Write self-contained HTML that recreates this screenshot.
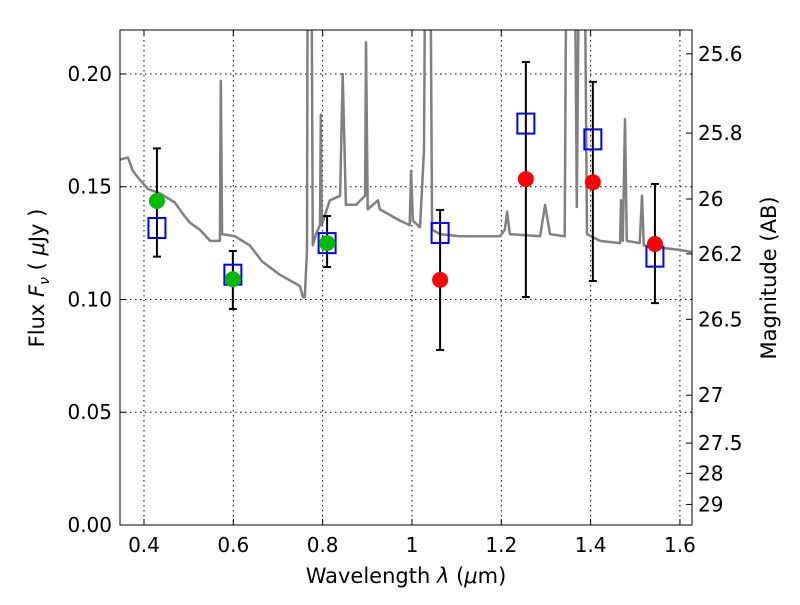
<!DOCTYPE html>
<html><head><meta charset="utf-8"><style>
body{margin:0;background:#fff;}
svg text{font-family:"DejaVu Sans","Liberation Sans",sans-serif;}
</style></head><body>
<svg id="chart" width="800" height="600">
<rect width="800" height="600" fill="#fff"/>
<defs><clipPath id="plotclip"><rect x="120" y="30" width="572" height="495"/></clipPath></defs>
<g id="grid"></g>
<g id="spec" clip-path="url(#plotclip)"></g>
<g id="marks"></g>
<rect x="120" y="30" width="572" height="495" fill="none" stroke="#000" stroke-width="1"/>
<g id="axes"></g>
<text x="406" y="583" font-size="21" text-anchor="middle">Wavelength  <tspan font-style="italic">λ</tspan> (<tspan font-style="italic">μ</tspan>m)</text>
<text transform="translate(44,278) rotate(-90)" font-size="21" text-anchor="middle">Flux  <tspan font-style="italic">F</tspan><tspan font-style="italic" font-size="14" dy="5">ν</tspan><tspan dy="-5">  ( </tspan><tspan font-style="italic">μ</tspan>Jy )</text>
<text transform="translate(776,278) rotate(-90)" font-size="21" text-anchor="middle">Magnitude (AB)</text>
</svg>
<script>
const specLam=[0.346,0.364,0.375,0.391,0.409,0.436,0.469,0.487,0.503,0.525,0.548,0.568,0.570,0.572,0.575,0.604,0.637,0.664,0.704,0.749,0.756,0.760,0.765,0.767,0.774,0.778,0.785,0.794,0.796,0.798,0.816,0.839,0.845,0.852,0.875,0.895,0.897,0.901,0.924,0.928,0.973,0.995,0.998,1.002,1.018,1.027,1.031,1.040,1.045,1.063,1.107,1.197,1.208,1.213,1.219,1.287,1.298,1.309,1.342,1.347,1.363,1.369,1.376,1.385,1.392,1.421,1.466,1.468,1.472,1.477,1.481,1.510,1.515,1.519,1.555,1.600,1.627];
const specFlux=[0.162,0.163,0.157,0.153,0.149,0.147,0.143,0.138,0.134,0.131,0.126,0.126,0.126,0.197,0.129,0.128,0.124,0.117,0.111,0.106,0.101,0.101,0.122,0.3,0.3,0.124,0.129,0.133,0.182,0.133,0.144,0.146,0.200,0.142,0.142,0.146,0.214,0.140,0.144,0.140,0.135,0.133,0.157,0.135,0.132,0.166,0.3,0.3,0.131,0.129,0.128,0.128,0.131,0.139,0.129,0.128,0.142,0.129,0.128,0.3,0.3,0.141,0.3,0.3,0.129,0.126,0.125,0.144,0.126,0.180,0.126,0.125,0.146,0.124,0.123,0.122,0.121];
const greenLam=[0.429,0.599,0.810];
const greenFlux=[0.1437,0.109,0.125];
const redLam=[1.063,1.255,1.405,1.544];
const redFlux=[0.1087,0.1534,0.152,0.1246];
const boxLam=[0.429,0.599,0.810,1.063,1.255,1.405,1.544];
const boxFlux=[0.1317,0.111,0.125,0.1295,0.178,0.171,0.119];
const errLo=[0.119,0.0958,0.1144,0.0776,0.1011,0.1082,0.0984];
const errHi=[0.167,0.1215,0.137,0.1397,0.2053,0.1965,0.1512];
const xTicks=[0.4,0.6,0.8,1.0,1.2,1.4,1.6];
const xTickLabels=["0.4","0.6","0.8","1","1.2","1.4","1.6"];
const yTicks=[0,0.05,0.1,0.15,0.2];
const yTickLabels=["0.00","0.05","0.10","0.15","0.20"];
const magTicks=[25.6,25.8,26,26.2,26.5,27,27.5,28,29];
const magTickLabels=["25.6","25.8","26","26.2","26.5","27","27.5","28","29"];

const X0=120,X1=692,Y0=525,Y1=30,XMIN=0.3463,XMAX=1.627,YMIN=0,YMAX=0.2195;
const xs=v=>X0+(v-XMIN)/(XMAX-XMIN)*(X1-X0);
const ys=v=>Y0-(v-YMIN)/(YMAX-YMIN)*(Y0-Y1);
const magToFlux=m=>Math.pow(10,(23.9-m)/2.5);
const NS="http://www.w3.org/2000/svg";
function mk(tag,attrs,parent){const e=document.createElementNS(NS,tag);for(const k in attrs)e.setAttribute(k,attrs[k]);parent.appendChild(e);return e;}
const grid=document.getElementById('grid'),axes=document.getElementById('axes'),spec=document.getElementById('spec'),marks=document.getElementById('marks');

xTicks.forEach((t,i)=>{const x=xs(t);
 let g=mk('line',{x1:x,x2:x,y1:Y1,y2:Y0,stroke:'#000','stroke-dasharray':'1.5,3.5','stroke-width':1},grid);
 
 mk('line',{x1:x,x2:x,y1:Y0,y2:Y0-6,stroke:'#000'},axes);
 mk('line',{x1:x,x2:x,y1:Y1,y2:Y1+6,stroke:'#000'},axes);
 let tx=mk('text',{x:x,y:Y0+27,'font-size':20,'text-anchor':'middle'},axes);tx.textContent=xTickLabels[i];
 
});
yTicks.forEach((t,i)=>{const y=ys(t);
 let g=mk('line',{x1:X0,x2:X1,y1:y,y2:y,stroke:'#000','stroke-dasharray':'1.5,3.5','stroke-width':1},grid);
 
 mk('line',{x1:X0,x2:X0+6,y1:y,y2:y,stroke:'#000'},axes);
 let tx=mk('text',{x:X0-8,y:y+7,'font-size':20,'text-anchor':'end'},axes);tx.textContent=yTickLabels[i];
 
});
magTicks.forEach((m,i)=>{const y=ys(magToFlux(m));
 mk('line',{x1:X1,x2:X1-6,y1:y,y2:y,stroke:'#000'},axes);
 let tx=mk('text',{x:X1+6,y:y+7,'font-size':20,'text-anchor':'start'},axes);tx.textContent=magTickLabels[i];
 
});
const pts=specLam.map((l,i)=>xs(l).toFixed(1)+','+ys(specFlux[i]).toFixed(1)).join(' ');
let pl=mk('polyline',{points:pts,fill:'none',stroke:'#808080','stroke-width':2.5,'stroke-linejoin':'round'},spec);


boxLam.forEach((l,i)=>{const x=xs(l),a=ys(errHi[i]),b=ys(errLo[i]);
 let e=mk('g',{},marks);
 
 mk('line',{x1:x,x2:x,y1:a,y2:b,stroke:'#000','stroke-width':2},e);
 mk('line',{x1:x-4,x2:x+4,y1:a,y2:a,stroke:'#000','stroke-width':2},e);
 mk('line',{x1:x-4,x2:x+4,y1:b,y2:b,stroke:'#000','stroke-width':2},e);
});
boxLam.forEach((l,i)=>{const x=xs(l),y=ys(boxFlux[i]);
 let r=mk('rect',{x:x-8.5,y:y-10,width:17,height:20,fill:'none',stroke:'#0000ff','stroke-width':2},marks);
 
});
greenLam.forEach((l,i)=>{
 let c=mk('circle',{cx:xs(l),cy:ys(greenFlux[i]),r:8,fill:'#00bb00'},marks);
 
});
redLam.forEach((l,i)=>{
 let c=mk('circle',{cx:xs(l),cy:ys(redFlux[i]),r:8,fill:'#ff0000'},marks);
 
});
</script>
</body></html>
